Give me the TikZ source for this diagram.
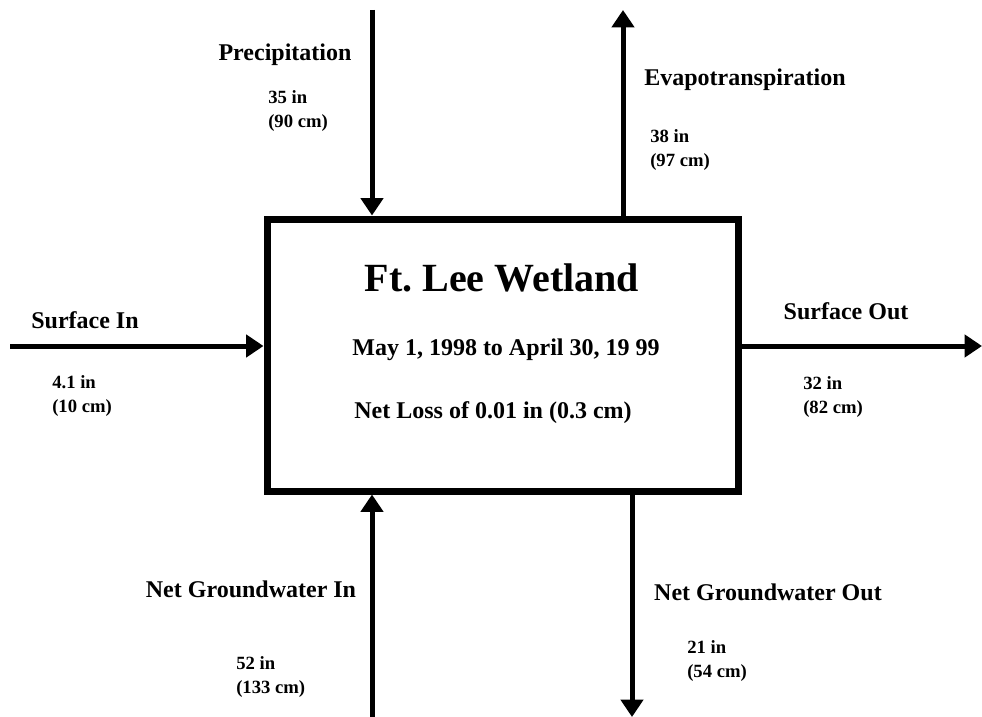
\documentclass[tikz,border=0pt]{standalone}
\usepackage{fontspec}
\setmainfont{Liberation Serif}
\usetikzlibrary{arrows.meta,positioning}

\begin{document}
\begin{tikzpicture}[x=0.75pt,y=-0.75pt,
  every node/.style={font=\bfseries\fontsize{18}{22}\selectfont,inner sep=0pt},
  flow/.style={line width=3.75pt,-{Triangle[width=16.5pt,length=13pt]}},
  val/.style={font=\bfseries\fontsize{14}{18}\selectfont,align=left,anchor=west}]
  \useasboundingbox (0,0) rectangle (982,717);
  % wetland box
  \node[draw,line width=5.25pt,minimum width=353.25pt,minimum height=204pt] (wet) at (502.5,355) {};
  \node[font=\bfseries\fontsize{30}{34}\selectfont] (title) at (502,278) {Ft.\ Lee Wetland};
  \node (period) at (506,350) {May 1, 1998 to April 30, 19 99};
  \node (loss) at (493,413) {Net Loss of 0.01 in (0.3 cm)};
  % free ends of the flows
  \coordinate (precip) at (372,10);
  \coordinate (evap) at (623,10);
  \coordinate (surfin) at (10,346);
  \coordinate (surfout) at (982,346);
  \coordinate (gwin) at (372,717);
  \coordinate (gwout) at (632,717);
  \draw[flow] (precip) -- (precip |- wet.north);
  \draw[flow] (evap |- wet.north) -- (evap);
  \draw[flow] (surfin) -- (surfin -| wet.west);
  \draw[flow] (surfout -| wet.east) -- (surfout);
  \draw[flow] (gwin) -- (gwin |- wet.south);
  \draw[flow] (gwout |- wet.south) -- (gwout);
  % labels
  \node (precipl) at (285,55) {Precipitation};
  \node[val] (precipv) at (268,111) {35 in\\(90 cm)};
  \node (evapl) at (745,80) {Evapotranspiration};
  \node[val] (evapv) at (650,150) {38 in\\(97 cm)};
  \node (surfinl) at (85,320) {Surface In};
  \node[val] (surfinv) at (52,396) {4.1 in\\(10 cm)};
  \node (surfoutl) at (846,311) {Surface Out};
  \node[val] (surfoutv) at (803,397) {32 in\\(82 cm)};
  \node (gwinl) at (251,589) {Net Groundwater In};
  \node[val] (gwinv) at (236,677) {52 in\\(133 cm)};
  \node (gwoutl) at (768,592) {Net Groundwater Out};
  \node[val] (gwoutv) at (687,661) {21 in\\(54 cm)};
\end{tikzpicture}
\end{document}
